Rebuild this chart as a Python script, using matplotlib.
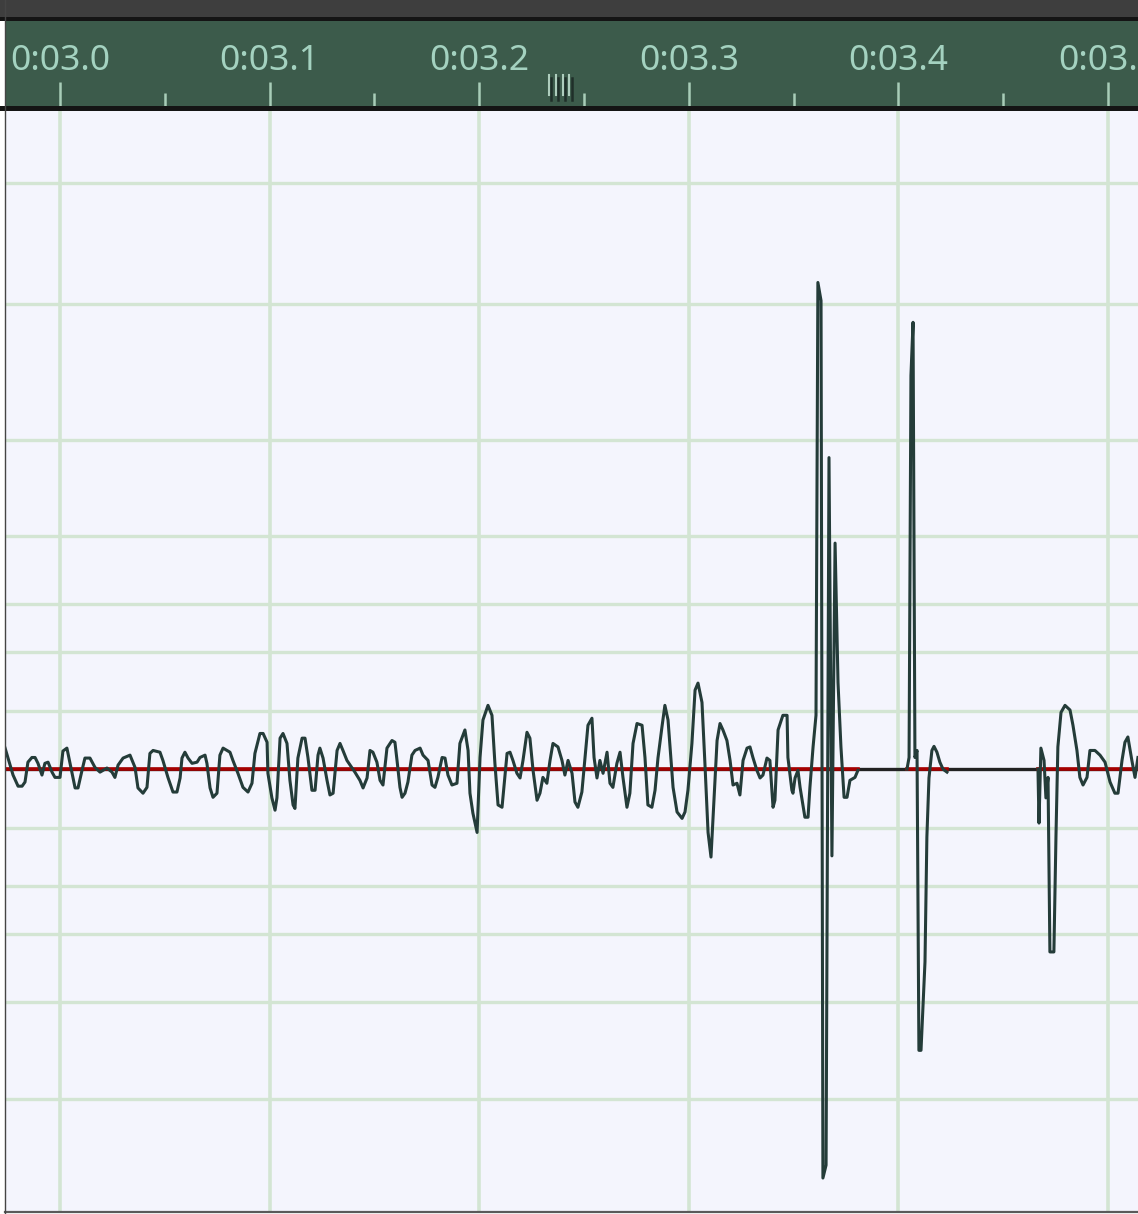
import numpy as np
import matplotlib.pyplot as plt
from matplotlib.lines import Line2D
from matplotlib.patches import Rectangle

# waveform: time in seconds, amplitude (0 dB = 1.0)
# three stretches with sound, silence in between
seg1_t = [2.9738, 2.9776, 2.9800, 2.9819, 2.9833, 2.9847, 2.9866, 2.9881, 2.9895, 2.9914,
          2.9928, 2.9943, 2.9962, 2.9976, 3.0000, 3.0014, 3.0033, 3.0048, 3.0072, 3.0086,
          3.0105, 3.0119, 3.0143, 3.0167, 3.0191, 3.0224, 3.0248, 3.0262, 3.0277, 3.0301,
          3.0334, 3.0358, 3.0372, 3.0396, 3.0415, 3.0429, 3.0444, 3.0477, 3.0491, 3.0515,
          3.0539, 3.0558, 3.0573, 3.0582, 3.0596, 3.0611, 3.0630, 3.0654, 3.0668, 3.0692,
          3.0701, 3.0716, 3.0730, 3.0749, 3.0763, 3.0778, 3.0811, 3.0825, 3.0849, 3.0873,
          3.0897, 3.0916, 3.0930, 3.0954, 3.0969, 3.0988, 3.0992, 3.1011, 3.1026, 3.1035,
          3.1050, 3.1064, 3.1083, 3.1097, 3.1112, 3.1121, 3.1135, 3.1155, 3.1169, 3.1183,
          3.1202, 3.1217, 3.1231, 3.1240, 3.1255, 3.1274, 3.1288, 3.1303, 3.1322, 3.1336,
          3.1350, 3.1369, 3.1384, 3.1407, 3.1431, 3.1446, 3.1465, 3.1479, 3.1493, 3.1512,
          3.1527, 3.1541, 3.1560, 3.1584, 3.1598, 3.1608, 3.1622, 3.1632, 3.1646, 3.1660,
          3.1679, 3.1694, 3.1718, 3.1732, 3.1756, 3.1775, 3.1789, 3.1803, 3.1823, 3.1837,
          3.1851, 3.1870, 3.1894, 3.1908, 3.1932, 3.1947, 3.1956, 3.1970, 3.1990, 3.2004,
          3.2018, 3.2042, 3.2061, 3.2075, 3.2090, 3.2109, 3.2133, 3.2147, 3.2161, 3.2180,
          3.2195, 3.2209, 3.2228, 3.2242, 3.2257, 3.2276, 3.2290, 3.2304, 3.2323, 3.2338,
          3.2352, 3.2376, 3.2395, 3.2409, 3.2424, 3.2443, 3.2457, 3.2471, 3.2490, 3.2505,
          3.2519, 3.2538, 3.2548, 3.2562, 3.2576, 3.2591, 3.2610, 3.2624, 3.2638, 3.2657,
          3.2672, 3.2686, 3.2705, 3.2719, 3.2734, 3.2753, 3.2777, 3.2791, 3.2805, 3.2824,
          3.2839, 3.2853, 3.2872, 3.2886, 3.2901, 3.2925, 3.2944, 3.2968, 3.2982, 3.2996,
          3.3015, 3.3030, 3.3044, 3.3063, 3.3077, 3.3092, 3.3106, 3.3120, 3.3135, 3.3149,
          3.3163, 3.3182, 3.3197, 3.3211, 3.3230, 3.3244, 3.3259, 3.3278, 3.3292, 3.3306,
          3.3325, 3.3340, 3.3354, 3.3373, 3.3387, 3.3402, 3.3411, 3.3426, 3.3449, 3.3469,
          3.3473, 3.3492, 3.3497, 3.3507, 3.3521, 3.3531, 3.3554, 3.3569, 3.3578, 3.3593,
          3.3607, 3.3616, 3.3631, 3.3640, 3.3655, 3.3669, 3.3683, 3.3698, 3.3712, 3.3726,
          3.3741, 3.3755, 3.3769, 3.3793, 3.3807]
seg1_a = [0.036, -0.010, -0.029, -0.029, -0.022, 0.012, 0.020, 0.020, 0.010, -0.010,
          0.010, 0.012, -0.005, -0.014, -0.014, 0.031, 0.036, 0.010, -0.032, -0.032,
          -0.002, 0.019, 0.019, 0.003, -0.005, 0.002, -0.005, -0.014, 0.007, 0.019,
          0.024, 0.003, -0.032, -0.041, -0.031, 0.027, 0.032, 0.029, 0.015, -0.014,
          -0.039, -0.039, -0.015, 0.019, 0.029, 0.019, 0.010, 0.012, 0.020, 0.024,
          0.010, -0.032, -0.048, -0.041, 0.024, 0.036, 0.029, 0.015, -0.007, -0.031,
          -0.039, -0.024, 0.027, 0.061, 0.061, 0.046, -0.007, -0.049, -0.070, -0.049,
          0.053, 0.061, 0.044, -0.019, -0.061, -0.067, 0.019, 0.053, 0.053, 0.020,
          -0.036, -0.036, 0.024, 0.036, 0.019, -0.019, -0.044, -0.041, 0.032, 0.044,
          0.032, 0.015, 0.007, -0.005, -0.019, -0.032, -0.015, 0.032, 0.029, 0.012,
          -0.019, -0.027, 0.036, 0.049, 0.046, 0.015, -0.031, -0.048, -0.041, -0.022,
          0.024, 0.032, 0.036, 0.024, 0.015, -0.027, -0.031, -0.014, 0.020, 0.019,
          -0.010, -0.027, -0.024, 0.044, 0.067, 0.032, -0.041, -0.075, -0.108, 0.020,
          0.084, 0.109, 0.092, 0.010, -0.061, -0.065, 0.027, 0.029, 0.015, -0.007,
          -0.015, 0.015, 0.063, 0.053, -0.002, -0.053, -0.041, -0.014, -0.024, 0.015,
          0.044, 0.038, 0.015, -0.010, 0.015, -0.007, -0.056, -0.065, -0.039, 0.020,
          0.075, 0.087, 0.020, -0.015, 0.015, -0.007, 0.029, -0.024, -0.031, 0.010,
          0.029, -0.014, -0.065, -0.041, 0.044, 0.078, 0.075, 0.020, -0.061, -0.065,
          -0.036, 0.019, 0.072, 0.109, 0.084, -0.031, -0.073, -0.084, -0.073, -0.036,
          0.044, 0.135, 0.147, 0.114, 0.010, -0.108, -0.150, -0.053, 0.049, 0.078,
          0.067, 0.049, 0.015, -0.027, -0.024, -0.044, 0.015, 0.036, 0.038, 0.020,
          -0.002, -0.015, -0.010, 0.019, 0.015, -0.065, -0.053, 0.067, 0.092, 0.092,
          0.020, -0.036, -0.041, -0.015, -0.002, -0.031, -0.082, -0.082, -0.031, 0.038,
          0.092, 0.831, 0.800, -0.698, -0.676, 0.532, -0.148, 0.386, 0.148, 0.038,
          -0.048, -0.048, -0.019, -0.014, -0.002]

seg2_t = [3.4041, 3.4051, 3.4060, 3.4070, 3.4079, 3.4089, 3.4098, 3.4108, 3.4127, 3.4136,
          3.4146, 3.4160, 3.4170, 3.4184, 3.4198, 3.4213, 3.4232]
seg2_a = [0.000, 0.020, 0.672, 0.763, 0.020, 0.032, -0.480, -0.480, -0.329, -0.116,
          -0.015, 0.032, 0.039, 0.029, 0.012, 0.000, -0.005]

seg3_t = [3.4666, 3.4671, 3.4680, 3.4695, 3.4704, 3.4714, 3.4723, 3.4742, 3.4752, 3.4761,
          3.4776, 3.4795, 3.4819, 3.4833, 3.4852, 3.4866, 3.4881, 3.4900, 3.4914, 3.4938,
          3.4962, 3.4986, 3.5010, 3.5033, 3.5048, 3.5067, 3.5081, 3.5095, 3.5114, 3.5129,
          3.5143]
seg3_a = [0.000, -0.092, 0.036, 0.015, -0.049, -0.014, -0.312, -0.312, -0.113, 0.038,
          0.097, 0.109, 0.101, 0.075, 0.032, -0.014, -0.027, -0.014, 0.032, 0.032,
          0.024, 0.012, -0.022, -0.041, -0.041, 0.015, 0.046, 0.055, 0.015, -0.014,
          0.020]

grid_db = [-20, -14, -11, -8, -5, -2, 0]
tick_times = [3.0, 3.1, 3.2, 3.3, 3.4, 3.5]
tick_labels = ['0:03.0', '0:03.1', '0:03.2', '0:03.3', '0:03.4', '0:03.5']
minor_times = [3.05, 3.15, 3.25, 3.35, 3.45]

x_lo, x_hi = 2.97376, 3.51433
y_lo, y_hi = -0.756, 1.1246

W, H = 1138, 1214


def box(l, t, r, b):
    # pixel box -> figure fraction
    return [l / W, 1 - b / H, (r - l) / W, (b - t) / H]


fig = plt.figure(figsize=(W / 100, H / 100), dpi=100)
fig.patch.set_facecolor('white')

# top dark strip
fig.add_artist(Rectangle((0, 1 - 17 / H), 1, 17 / H, transform=fig.transFigure,
                         facecolor='#3e3e3e', edgecolor='none'))
fig.add_artist(Rectangle((0, 1 - 21 / H), 1, 4.5 / H, transform=fig.transFigure,
                         facecolor='#141414', edgecolor='none'))

# ruler
ax_h = fig.add_axes(box(5, 21, W, 107))
ax_h.set_facecolor('#3c5b4b')
ax_h.set_xlim(x_lo, x_hi)
ax_h.set_ylim(0, 1)
for s in ax_h.spines.values():
    s.set_visible(False)
ax_h.set_yticks([])
ax_h.set_xticks(tick_times)
ax_h.set_xticks(minor_times, minor=True)
ax_h.tick_params(axis='x', which='major', direction='in', length=18, width=1.8,
                 color='#a8cdb8', labelbottom=False)
ax_h.tick_params(axis='x', which='minor', direction='in', length=10, width=1.8,
                 color='#a8cdb8')
for t, lab in zip(tick_times, tick_labels):
    ax_h.text(t, 0.43, lab, ha='center', va='baseline', fontsize=25.5,
              family='Noto Sans', color='#a4d2c0', clip_on=True)

# little handle on the ruler
for fx in [0.4797, 0.4859, 0.4921, 0.4982]:
    ax_h.plot([fx + 0.0018, fx + 0.0018], [0.08, 0.34], color='#1f2f29', lw=1.8,
              transform=ax_h.transAxes)
    ax_h.plot([fx, fx], [0.14, 0.37], color='#aecdbd', lw=1.5,
              transform=ax_h.transAxes)

fig.add_artist(Rectangle((0, 1 - 110.5 / H), 1, 4 / H, transform=fig.transFigure,
                         facecolor='#141414', edgecolor='none'))

# waveform area
ax = fig.add_axes(box(5, 110.5, W, 1212))
ax.set_facecolor('#f4f5fd')
ax.set_xlim(x_lo, x_hi)
ax.set_ylim(y_lo, y_hi)
ax.set_xticks([])
ax.set_yticks([])
for k, s in ax.spines.items():
    s.set_visible(k == 'bottom')
ax.spines['bottom'].set_color('#5a5a5a')
ax.spines['bottom'].set_linewidth(1.6)

grid_col = '#d3e5d3'
for db in grid_db:
    lvl = 10 ** (db / 20)
    ax.axhline(lvl, color=grid_col, lw=2.4, zorder=1)
    ax.axhline(-lvl, color=grid_col, lw=2.4, zorder=1)
for t in tick_times:
    ax.axvline(t, color=grid_col, lw=2.6, zorder=1)

# zero line: dark in silence, red where there is sound
ax.axhline(0, color='#222222', lw=2.4, zorder=2)
for st, sa in [(seg1_t, seg1_a), (seg2_t, seg2_a), (seg3_t, seg3_a)]:
    ax.plot([st[0], st[-1]], [0, 0], color='#a60000', lw=2.6, zorder=3)
    ax.plot(st, sa, color='#243c39', lw=2.2, zorder=4, solid_joinstyle='round')

# thin frame line on the left
fig.add_artist(Line2D([4.5 / W, 4.5 / W], [0, 1], transform=fig.transFigure,
                      color='#454545', lw=1.0))

fig.savefig('out.png', dpi=100)
